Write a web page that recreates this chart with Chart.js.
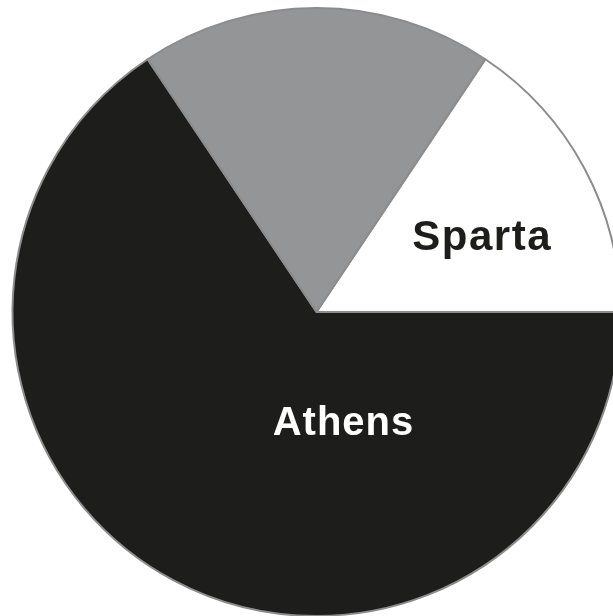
<!DOCTYPE html>
<html>
<head>
<meta charset="utf-8">
<script src="https://cdn.jsdelivr.net/npm/chart.js@4"></script>
<style>
  html, body { margin: 0; padding: 0; background: #fff; overflow: hidden; }
  #pieChart { position: absolute; left: 0; top: 7px; }
</style>
</head>
<body>
<canvas id="pieChart" width="633" height="610"></canvas>
<script>
// slices, clockwise from Sparta
const labels = ['Sparta', 'Athens', 'Other'];
const values = [5, 21, 6];
const colors = ['#ffffff', '#1d1e1c', '#949596'];
// which slices get a text label, and where (angle in deg from 3 o'clock, fraction of radius)
const showLabel = [true, true, false];
const labelColors = ['#1d1e1c', '#ffffff', '#000000'];
const labelAngles = [-23.9, 76.5, 0];
const labelRadius = [0.596, 0.38, 0];
const labelSizes = [42, 40, 40];
const labelSpacing = ['1.5px', '1px', '0px'];

const sliceLabels = {
  id: 'sliceLabels',
  afterDatasetsDraw(chart) {
    const c = chart.ctx;
    const arc = chart.getDatasetMeta(0).data[0];
    const cx = arc.x, cy = arc.y, r = arc.outerRadius;
    c.save();
    c.textAlign = 'center';
    c.textBaseline = 'middle';
    labels.forEach((name, i) => {
      if (!showLabel[i]) return;
      const a = labelAngles[i] * Math.PI / 180;
      c.font = 'bold ' + labelSizes[i] + 'px "Liberation Sans", Arial, sans-serif';
      c.letterSpacing = labelSpacing[i];
      c.fillStyle = labelColors[i];
      c.fillText(name, cx + Math.cos(a) * r * labelRadius[i], cy + Math.sin(a) * r * labelRadius[i]);
    });
    c.restore();
  }
};

const ctx = document.getElementById('pieChart');

new Chart(ctx, {
  type: 'pie',
  data: {
    labels: labels,
    datasets: [{
      data: values,
      backgroundColor: colors,
      borderColor: '#8c8c8c',
      borderWidth: 2
    }]
  },
  options: {
    responsive: false,
    animation: false,
    rotation: 33.75,
    layout: { padding: 0 },
    plugins: {
      legend: { display: false },
      tooltip: { enabled: false }
    }
  },
  plugins: [sliceLabels]
});
</script>
</body>
</html>
